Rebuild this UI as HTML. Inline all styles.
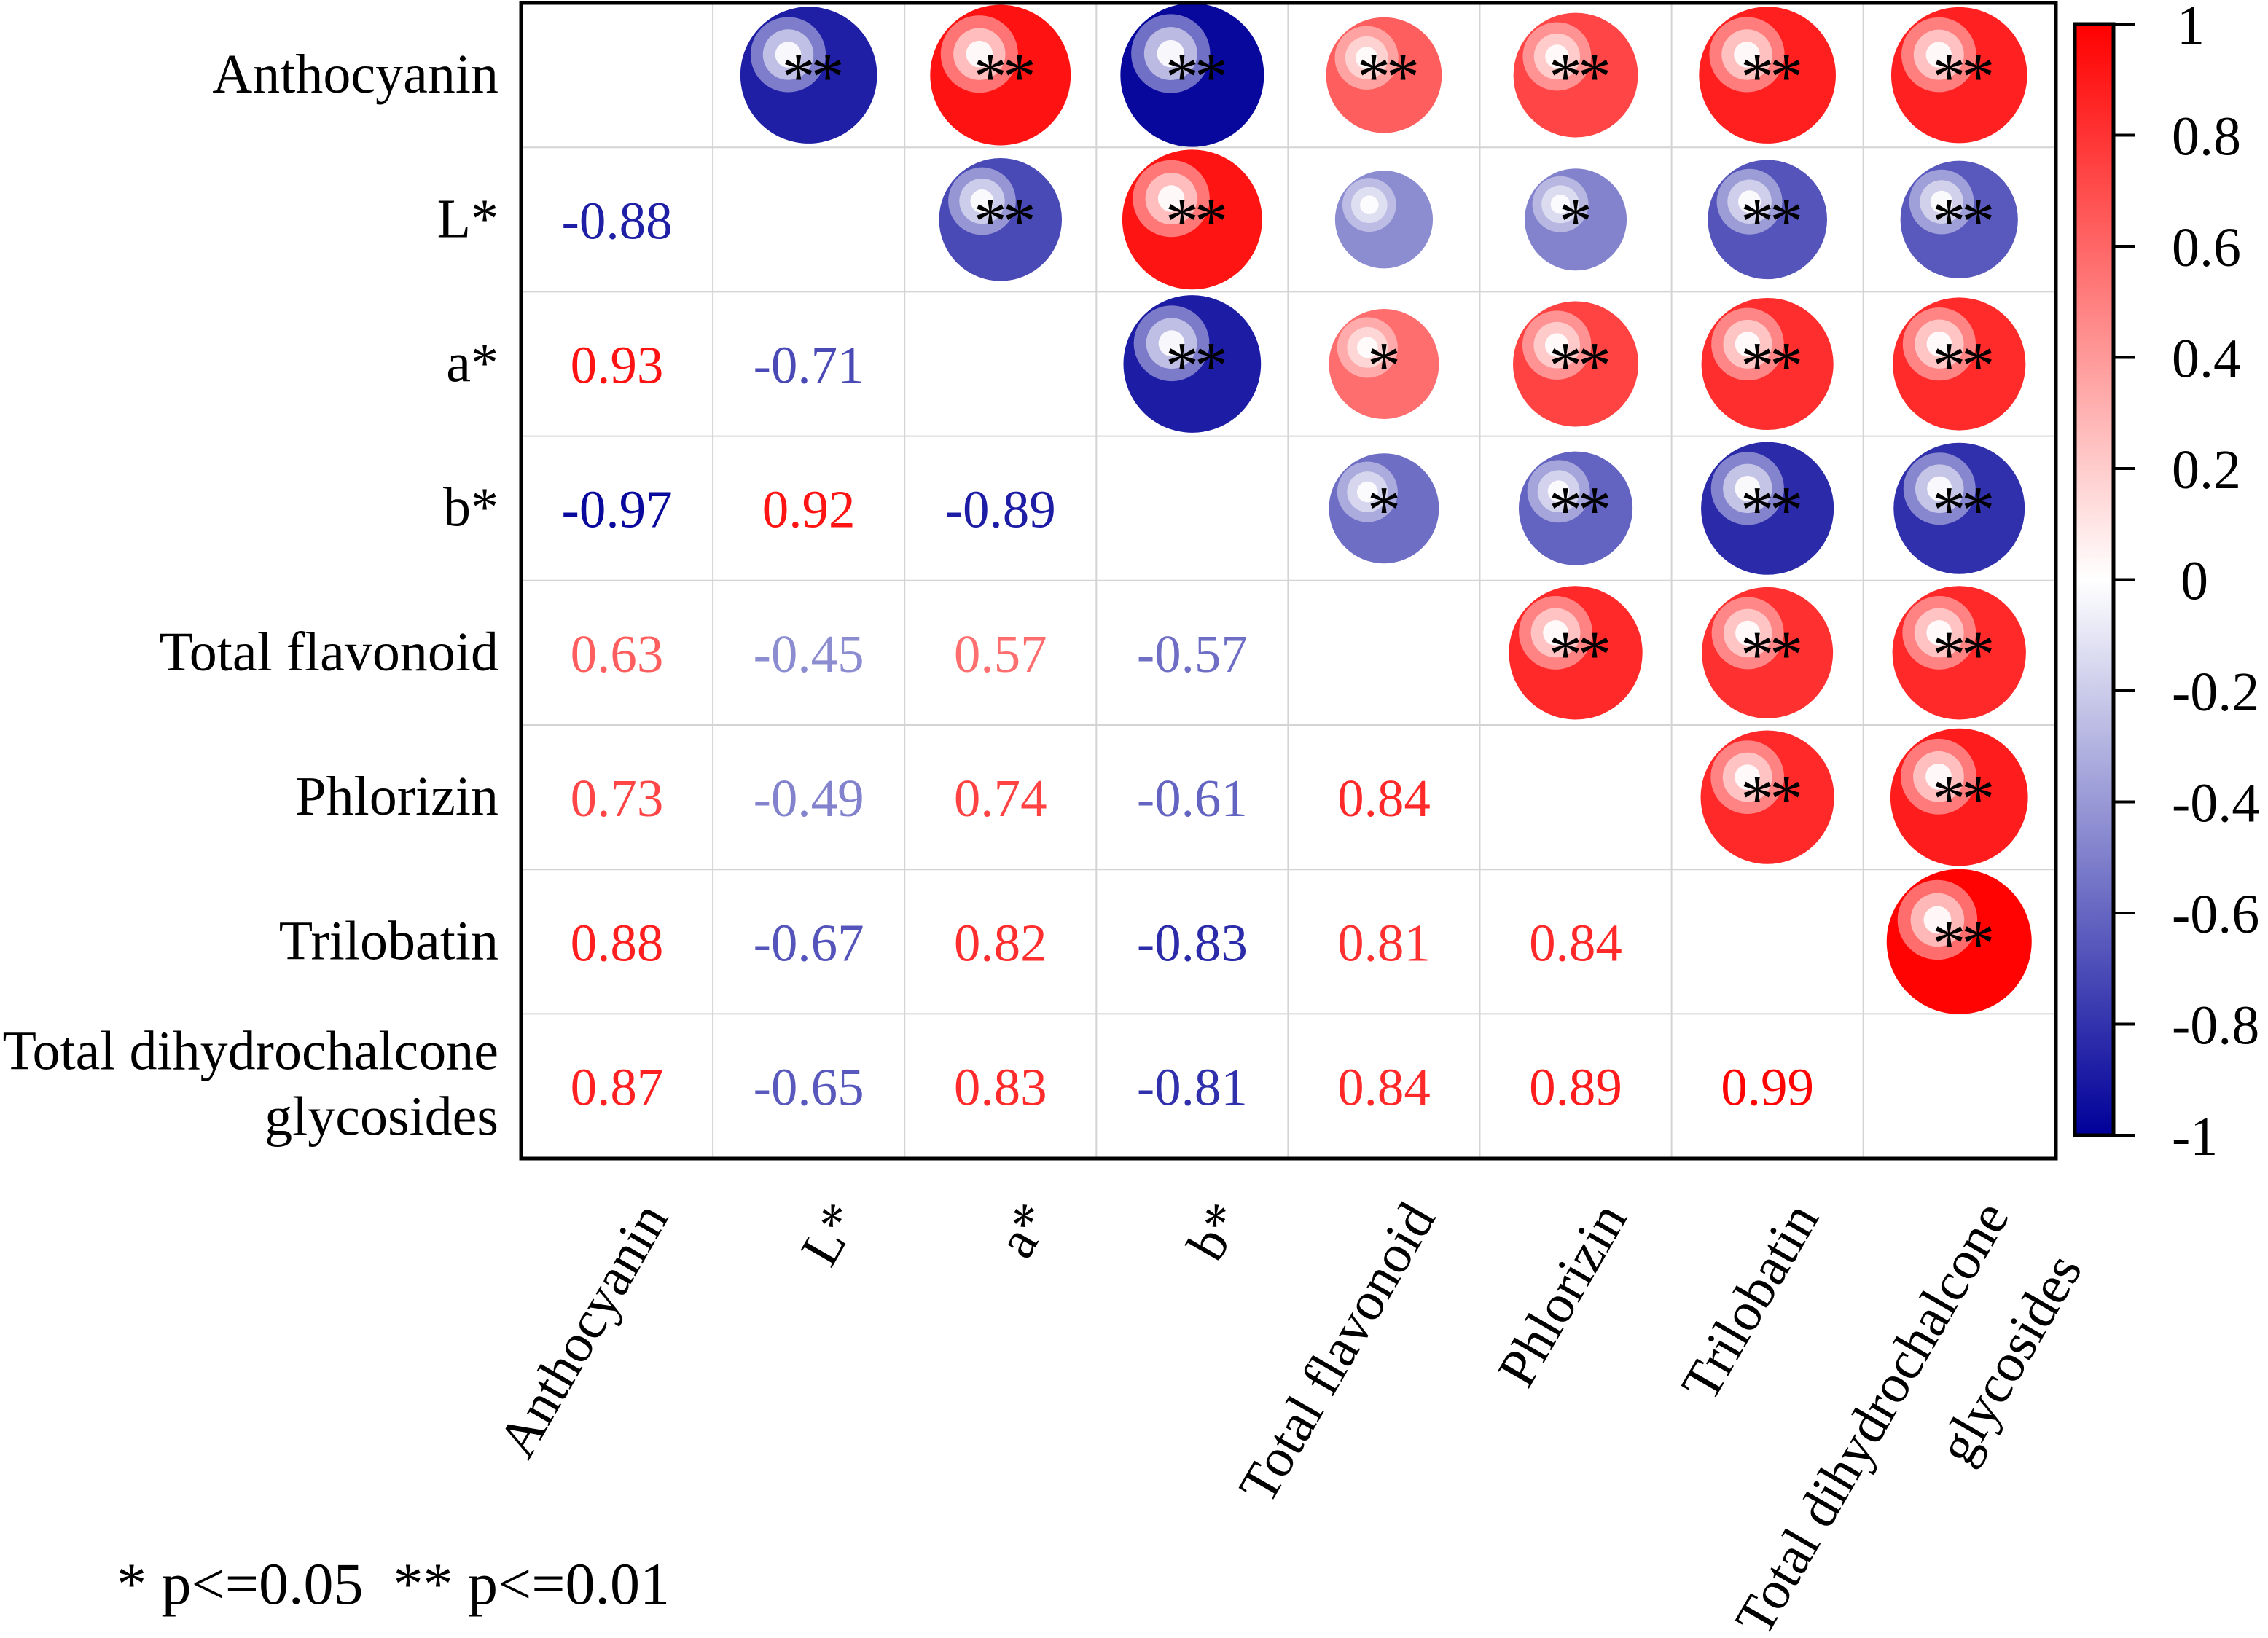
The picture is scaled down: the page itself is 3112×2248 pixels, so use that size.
<!DOCTYPE html>
<html>
<head>
<meta charset="utf-8">
<style>
  html,body{margin:0;padding:0;background:#fff;}
  svg{display:block;}
  text{font-family:"Liberation Serif","Times New Roman",serif;}
</style>
</head>
<body>
<svg id="chart" width="3112" height="2248" viewBox="0 0 3112 2248" xmlns="http://www.w3.org/2000/svg">
  <defs>
    <linearGradient id="cbar" x1="0" y1="0" x2="0" y2="1">
      <stop offset="0" stop-color="#ff0000"/>
      <stop offset="0.5" stop-color="#ffffff"/>
      <stop offset="1" stop-color="#000099"/>
    </linearGradient>
  </defs>
  <g id="grid"></g>
  <g id="marks"></g>
  <rect x="715" y="4" width="2106" height="1586" fill="none" stroke="#000" stroke-width="5"/>
  <g id="rowlabels"></g>
  <g id="collabels"></g>
  <g id="colorbar">
    <rect x="2847" y="33" width="53" height="1525" fill="url(#cbar)" stroke="#000" stroke-width="5"/>
  </g>
  <text x="160" y="2201" font-size="82" fill="#000" xml:space="preserve">* p&lt;=0.05  ** p&lt;=0.01</text>
</svg>
<script>
const labels = ["Anthocyanin","L*","a*","b*","Total flavonoid","Phlorizin","Trilobatin","Total dihydrochalcone glycosides"];
// lower-triangle correlation coefficients (row i, col j<i)
const corrRows = [
  [],
  [-0.88],
  [0.93,-0.71],
  [-0.97,0.92,-0.89],
  [0.63,-0.45,0.57,-0.57],
  [0.73,-0.49,0.74,-0.61,0.84],
  [0.88,-0.67,0.82,-0.83,0.81,0.84],
  [0.87,-0.65,0.83,-0.81,0.84,0.89,0.99]
];
// significance stars for the upper-triangle circles, indexed like corrRows
const sigRows = [
  [],
  ["**"],
  ["**","**"],
  ["**","**","**"],
  ["**","","*","*"],
  ["**","*","**","**","**"],
  ["**","**","**","**","**","**"],
  ["**","**","**","**","**","**","**"]
];
const cbTicks = [1,0.8,0.6,0.4,0.2,0,-0.2,-0.4,-0.6,-0.8,-1];

const NS = "http://www.w3.org/2000/svg";
const X0 = 715, Y0 = 4, CW = 263.1, CH = 198.2;
const cx = j => X0 + (j + 0.5) * CW;
const cy = i => Y0 + (i + 0.5) * CH;
const cbY = v => 33 + (1 - v) / 2 * 1525;
const radius = r => 100 * Math.sqrt(Math.abs(r));

function mix(c, t) {
  return "rgb(" + c.map(v => Math.round(255 + (v - 255) * t)).join(",") + ")";
}
function base(r) { return r >= 0 ? [255,0,0] : [0,0,153]; }
function colorOf(r) { return mix(base(r), Math.abs(r)); }
function el(tag, attrs, parent) {
  const e = document.createElementNS(NS, tag);
  for (const k in attrs) e.setAttribute(k, attrs[k]);
  parent.appendChild(e);
  return e;
}

const grid = document.getElementById("grid");
for (let k = 1; k < 8; k++) {
  const v = el("line", {x1: X0 + k*CW, x2: X0 + k*CW, y1: Y0, y2: Y0 + 8*CH, stroke: "#d4d4d4", "stroke-width": 2}, grid);
  
  
  const h = el("line", {x1: X0, x2: X0 + 8*CW, y1: Y0 + k*CH, y2: Y0 + k*CH, stroke: "#d4d4d4", "stroke-width": 2}, grid);
  
  
}

const marks = document.getElementById("marks");
for (let i = 1; i < 8; i++) {
  for (let j = 0; j < i; j++) {
    const r = corrRows[i][j];
    const col = colorOf(r);
    const t = el("text", {x: cx(j), y: cy(i) + 26, "text-anchor": "middle", "font-size": 73, fill: col}, marks);
    t.textContent = r.toFixed(2);
    
    
    const x = cx(i), y = cy(j), R = radius(r);
    const g = el("g", {}, marks);
    
    
    el("circle", {cx: x, cy: y, r: R, fill: col}, g);
    const hx = x - 0.3*R, hy = y - 0.3*R;
    el("circle", {cx: hx, cy: hy, r: 0.55*R, fill: mix(base(r), Math.abs(r)*0.58)}, g);
    el("circle", {cx: hx, cy: hy, r: 0.37*R, fill: mix(base(r), Math.abs(r)*0.28)}, g);
    el("circle", {cx: hx, cy: hy, r: 0.19*R, fill: mix(base(r), Math.abs(r)*0.03)}, g);
    const s = sigRows[i][j];
    if (s) {
      const st = el("text", {x: x + (s.length === 2 ? 3 : 0), y: y + 33, "text-anchor": "middle", "font-size": 92, "letter-spacing": s.length === 2 ? -6 : 0, fill: "#000"}, g);
      st.textContent = s;
      
      
    }
  }
}

const rl = document.getElementById("rowlabels");
for (let i = 0; i < 8; i++) {
  if (i === 7) {
    const a = el("text", {x: 684, y: cy(i) - 23, "text-anchor": "end", "font-size": 76, fill: "#000"}, rl);
    a.textContent = "Total dihydrochalcone";
    
    
    const b = el("text", {x: 684, y: cy(i) + 67, "text-anchor": "end", "font-size": 76, fill: "#000"}, rl);
    b.textContent = "glycosides";
    
    
  } else {
    const t = el("text", {x: 684, y: cy(i) + 24, "text-anchor": "end", "font-size": 76, fill: "#000"}, rl);
    t.textContent = labels[i];
    
    
  }
}

const cl = document.getElementById("collabels");
for (let j = 0; j < 8; j++) {
  if (j === 7) {
    const p1 = [cx(j) + 70, 1668], p2 = [cx(j) + 170, 1740];
    const a = el("text", {x: p1[0], y: p1[1], "text-anchor": "end", "font-size": 75, fill: "#000", transform: `rotate(-60 ${p1[0]} ${p1[1]})`}, cl);
    a.textContent = "Total dihydrochalcone";
    
    
    const b = el("text", {x: p2[0], y: p2[1], "text-anchor": "end", "font-size": 75, fill: "#000", transform: `rotate(-60 ${p2[0]} ${p2[1]})`}, cl);
    b.textContent = "glycosides";
    
    
  } else {
    const px = cx(j) + 72, py = 1670;
    const t = el("text", {x: px, y: py, "text-anchor": "end", "font-size": 75, fill: "#000", transform: `rotate(-60 ${px} ${py})`}, cl);
    t.textContent = labels[j];
    
    
  }
}

const cb = document.getElementById("colorbar");
cbTicks.forEach(v => {
  const y = cbY(v);
  const tk = el("line", {x1: 2900, x2: 2929, y1: y, y2: y, stroke: "#000", "stroke-width": 4}, cb);
  
  
  const lb = el("text", {x: v === 1 ? 2987 : (v === 0 ? 2992 : 2980), y: y + 27, "font-size": 76, fill: "#000"}, cb);
  lb.textContent = String(v);
  
  
});
</script>
</body>
</html>
